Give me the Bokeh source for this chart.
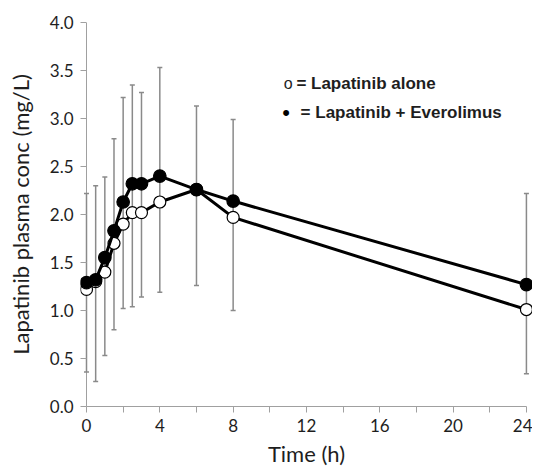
from bokeh.plotting import figure
from bokeh.models import (Range1d, FixedTicker, Whisker, TeeHead, ColumnDataSource,
                          Label, Span)
from bokeh.embed import file_html
from bokeh.resources import INLINE

# ---- data ----
times = [0, 0.5, 1, 1.5, 2, 2.5, 3, 4, 6, 8, 24]
lap_alone = [1.22, 1.30, 1.40, 1.70, 1.90, 2.02, 2.02, 2.13, 2.26, 1.97, 1.01]
lap_evero = [1.29, 1.32, 1.55, 1.83, 2.13, 2.32, 2.32, 2.40, 2.26, 2.14, 1.27]
err_upper = [2.22, 2.30, 2.39, 2.79, 3.22, 3.35, 3.27, 3.53, 3.13, 2.99, 2.22]
err_lower = [0.36, 0.26, 0.53, 0.80, 1.02, 1.04, 1.14, 1.19, 1.26, 1.00, 0.34]

x_ticks = [0, 4, 8, 12, 16, 20, 24]
x_minor_ticks = [2, 6, 10, 14, 18, 22]
y_ticks = [0.0, 0.5, 1.0, 1.5, 2.0, 2.5, 3.0, 3.5, 4.0]
y_tick_labels = ["0.0", "0.5", "1.0", "1.5", "2.0", "2.5", "3.0", "3.5", "4.0"]

series_labels = ["= Lapatinib alone", "= Lapatinib + Everolimus"]
x_title = "Time (h)"
y_title = "Lapatinib plasma conc (mg/L)"

AXIS_GRAY = "#a0a0a0"
BAR_GRAY = "#8a8a8a"
TEXT = "#1e1e1e"

PX = 18.33  # pixels per hour
p = figure(frame_width=452, frame_height=384,
           x_range=Range1d(-6 / PX, -6 / PX + 452 / PX), y_range=Range1d(0, 4),
           min_border_left=80, min_border_right=0, min_border_top=22, min_border_bottom=40,
           output_backend="svg", toolbar_location=None)
p.outline_line_color = None
p.xgrid.visible = False
p.ygrid.visible = False
p.background_fill_color = "white"

# y axis line at time 0
p.add_layout(Span(location=0, dimension="height", line_color=AXIS_GRAY,
                  line_width=1, level="underlay"))

# error bars
src = ColumnDataSource(dict(base=times, upper=err_upper, lower=err_lower))
w = Whisker(base="base", upper="upper", lower="lower", source=src,
            line_color=BAR_GRAY, line_width=1.5,
            upper_head=TeeHead(size=5, line_color=BAR_GRAY, line_width=1.5),
            lower_head=TeeHead(size=5, line_color=BAR_GRAY, line_width=1.5))
p.add_layout(w)

# series
p.line(times, lap_alone, line_color="black", line_width=3)
p.scatter(times, lap_alone, size=12, fill_color="white", line_color="black", line_width=1.2)
p.line(times, lap_evero, line_color="black", line_width=3)
p.scatter(times, lap_evero, size=12.5, fill_color="black", line_color="black", line_width=1.2)

# axes
xa = p.xaxis[0]
xa.ticker = FixedTicker(ticks=x_ticks, minor_ticks=x_minor_ticks)
xa.bounds = (0, 24)
ya = p.yaxis[0]
ya.ticker = FixedTicker(ticks=y_ticks)
ya.major_label_overrides = {t: l for t, l in zip(y_ticks, y_tick_labels)}

for ax in (xa, ya):
    ax.axis_line_color = AXIS_GRAY
    ax.axis_line_width = 1
    ax.major_tick_line_color = AXIS_GRAY
    ax.minor_tick_line_color = AXIS_GRAY
    ax.major_label_text_font = "Lato"
    ax.major_label_text_font_size = "17px"
    ax.major_label_text_color = TEXT
    ax.axis_label_text_font = "Lato"
    ax.axis_label_text_font_size = "22px"
    ax.axis_label_text_font_style = "normal"
    ax.axis_label_text_color = TEXT
xa.major_tick_in = 0
xa.major_tick_out = 6
xa.minor_tick_in = 0
xa.minor_tick_out = 6
ya.axis_line_color = None
ya.minor_tick_line_color = None
ya.major_tick_in = 6
ya.major_tick_out = 0
xa.axis_label = x_title
ya.axis_label = y_title
xa.major_label_standoff = 6
xa.axis_label_standoff = 5
ya.major_label_standoff = 7
ya.axis_label_standoff = 13

# legend texts (positions in data coordinates)
p.add_layout(Label(x=10.76, y=3.361, text="o", text_font="Liberation Sans",
                   text_font_size="16px", text_color=TEXT, text_baseline="alphabetic"))
p.add_layout(Label(x=11.45, y=3.361, text=series_labels[0], text_font="Liberation Sans",
                   text_font_size="17px", text_font_style="bold", text_color=TEXT,
                   text_baseline="alphabetic"))
p.add_layout(Label(x=10.68, y=3.058, text="\u2022", text_font="Liberation Sans",
                   text_font_size="22px", text_color="black", text_baseline="alphabetic"))
p.add_layout(Label(x=11.68, y=3.058, text=series_labels[1], text_font="Liberation Sans",
                   text_font_size="17px", text_font_style="bold", text_color=TEXT,
                   text_baseline="alphabetic"))

open("out.html", "w").write(file_html(p, INLINE))
